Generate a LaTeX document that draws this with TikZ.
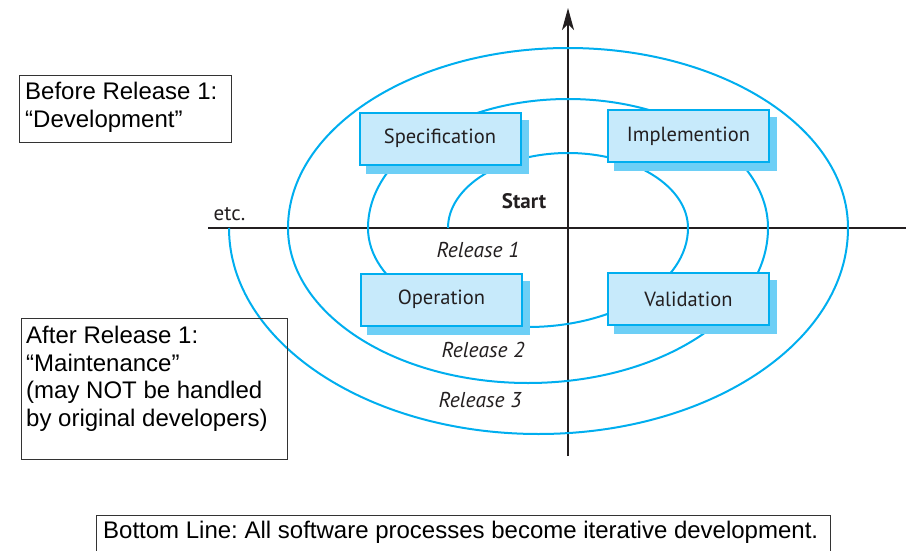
\documentclass[tikz,border=0pt]{standalone}
\usepackage{fontspec}
\setmainfont{Liberation Sans}
\newfontfamily\phasefont{PT Sans}
\usetikzlibrary{arrows.meta}
\frenchspacing
\definecolor{cyanline}{HTML}{00AEEF}
\definecolor{boxfill}{HTML}{C7EAFB}
\definecolor{shadowc}{HTML}{6DCFF6}
\definecolor{axisc}{HTML}{231F20}
\tikzset{
  spiral/.style={draw=cyanline, line width=2pt},
  axisline/.style={draw=axisc, line width=1.4pt},
  phase/.style={draw=cyanline, fill=boxfill, line width=2pt, minimum width=161pt, minimum height=52pt, inner sep=0pt, font=\phasefont\fontsize{20.5}{24}\selectfont, text=axisc},
  lbl/.style={text=axisc, inner sep=0pt},
  frame/.style={draw=black!80, line width=0.9pt, inner sep=0pt},
  lefttext/.style={font=\fontsize{24}{27.5}\selectfont, align=left, inner sep=0pt, text=black},
}
\begin{document}
\begin{tikzpicture}[x=1pt,y=1pt]
\useasboundingbox (0,0) rectangle (916,-551);
% axes
\coordinate (vtop) at (568,-8);
\coordinate (vbot) at (568,-456);
\coordinate (hleft) at (208,-228);
\coordinate (hright) at (906,-228);
\draw[axisline] (hleft) -- (hright);
\draw[axisline, -{Stealth[length=22pt,width=12pt,inset=6pt]}] (vbot) -- (vtop);
% spiral
\coordinate (s0) at (448,-228);
\draw[spiral] (s0)
  arc[start angle=180, end angle=0, x radius=120pt, y radius=75pt]
  arc[start angle=0, end angle=-180, x radius=160pt, y radius=99pt]
  arc[start angle=180, end angle=0, x radius=200pt, y radius=129pt]
  arc[start angle=0, end angle=-180, x radius=240pt, y radius=155pt]
  arc[start angle=180, end angle=0, x radius=280pt, y radius=180pt]
  arc[start angle=0, end angle=-180, x radius=309.5pt, y radius=206pt];
% phase boxes
\node[phase] (spec) at (440,-138.5) {Specification};
\node[phase] (impl) at (688.5,-136) {Implemention};
\node[phase] (oper) at (441.5,-299.5) {Operation};
\node[phase] (vali) at (688.5,-299) {Validation};
\foreach \n in {spec,impl,oper,vali}{
  \fill[shadowc] ([shift={(7,-8)}]\n.south west) rectangle ([shift={(7,-8)}]\n.north east);
}
\node[phase] at (spec) {Specification};
\node[phase] at (impl) {Implemention};
\node[phase] at (oper) {Operation};
\node[phase] at (vali) {Validation};
% labels
\node[lbl, font=\phasefont\bfseries\fontsize{21}{24}\selectfont] (start) at (524,-201) {Start};
\node[lbl, font=\phasefont\itshape\fontsize{21.5}{24}\selectfont] (r1) at (478,-250) {Release 1};
\node[lbl, font=\phasefont\itshape\fontsize{21.5}{24}\selectfont] (r2) at (483,-350) {Release 2};
\node[lbl, font=\phasefont\itshape\fontsize{21.5}{24}\selectfont] (r3) at (480,-400) {Release 3};
\node[lbl, font=\phasefont\fontsize{21}{24}\selectfont] (etc) at (229.5,-214) {etc.};
% left boxes
\node[frame, minimum width=212pt, minimum height=67pt, anchor=north west] (beforebox) at (19,-75) {};
\node[lefttext, anchor=north west] (beforetext) at ([shift={(6,-7)}]beforebox.north west) {Before Release 1:\\“Development”};
\node[frame, minimum width=266pt, minimum height=141pt, anchor=north west] (afterbox) at (21,-318) {};
\node[lefttext, anchor=north west] (aftertext) at ([shift={(5,-8)}]afterbox.north west) {After Release 1:\\“Maintenance”\\(may NOT be handled\\by original developers)};
% bottom line
\node[lefttext, anchor=north west] (bottom) at (103,-521) {Bottom Line: All software processes become iterative development.};
\coordinate (bl) at (96,-560);
\coordinate (br) at (830,-560);
\draw[frame] (bl) -- (96,-515) -- (830,-515) -- (br);
\end{tikzpicture}
\end{document}
